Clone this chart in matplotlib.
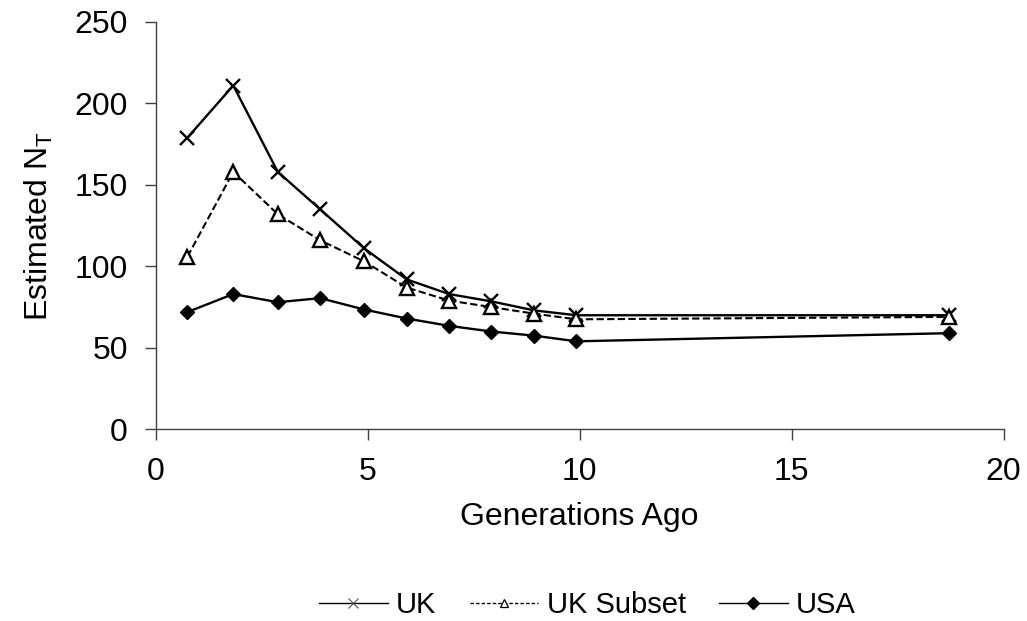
import matplotlib
matplotlib.use("Agg")
import matplotlib.pyplot as plt
from matplotlib.lines import Line2D

# Generations ago and estimated effective size per population
gens = [0.75, 1.83, 2.88, 3.88, 4.92, 5.92, 6.92, 7.92, 8.92, 9.92, 18.72]
uk = [179, 211, 158, 135, 111, 92, 83, 78.5, 73, 70, 70]
uk_subset = [106, 158, 132, 116, 103, 87, 79, 75, 71, 67.5, 69]
usa = [72, 83, 78, 80.5, 73.5, 68, 63.5, 60, 57.5, 54, 59]
series_names = ['UK', 'UK Subset', 'USA']

plt.rcParams['font.family'] = ['Liberation Sans', 'DejaVu Sans']

fig = plt.figure(figsize=(10.27, 6.21), dpi=100)
ax = fig.add_axes([0.1516, 0.3087, 0.8257, 0.6559])

ax.plot(gens, uk, color='black', lw=1.7, marker='x', ms=10.5, mew=1.7)
ax.plot(gens, uk_subset, color='black', lw=1.5, ls=(0, (3.5, 1.6)), marker='^', ms=10.5,
        mfc='white', mec='black', mew=1.7)
ax.plot(gens, usa, color='black', lw=1.7, marker='D', ms=7.5, mfc='black')

ax.set_xlim(0, 20)
ax.set_ylim(0, 250)
ax.set_xticks([0, 5, 10, 15, 20])
ax.set_yticks([0, 50, 100, 150, 200, 250])
ax.spines['top'].set_visible(False)
ax.spines['right'].set_visible(False)
for s in ('left', 'bottom'):
    ax.spines[s].set_linewidth(1.0)
    ax.spines[s].set_color('#404040')
ax.tick_params(axis='both', direction='out', length=8, width=1.0, color='#404040',
               labelsize=23, pad=12)

ax.set_xlabel('Generations Ago', fontsize=23, labelpad=11)
ax.set_ylabel('Estimated N$_\\mathregular{T}$', fontsize=23, labelpad=14)

# Thin legend handles with small markers
handles = [
    Line2D([], [], color='black', lw=1.0, marker='x', ms=7, mew=0.8, mec='#555555'),
    Line2D([], [], color='black', lw=1.0, ls=(0, (2.5, 1.5)), marker='^', ms=6,
           mfc='white', mec='black', mew=0.9),
    Line2D([], [], color='black', lw=1.0, marker='D', ms=6, mfc='black'),
]
fig.legend(handles, series_names, loc='center', bbox_to_anchor=(0.572, 0.026), ncol=3,
           frameon=False, fontsize=21, handlelength=2.35, columnspacing=1.15,
           handletextpad=0.28)

fig.savefig('out.png', dpi=100)
